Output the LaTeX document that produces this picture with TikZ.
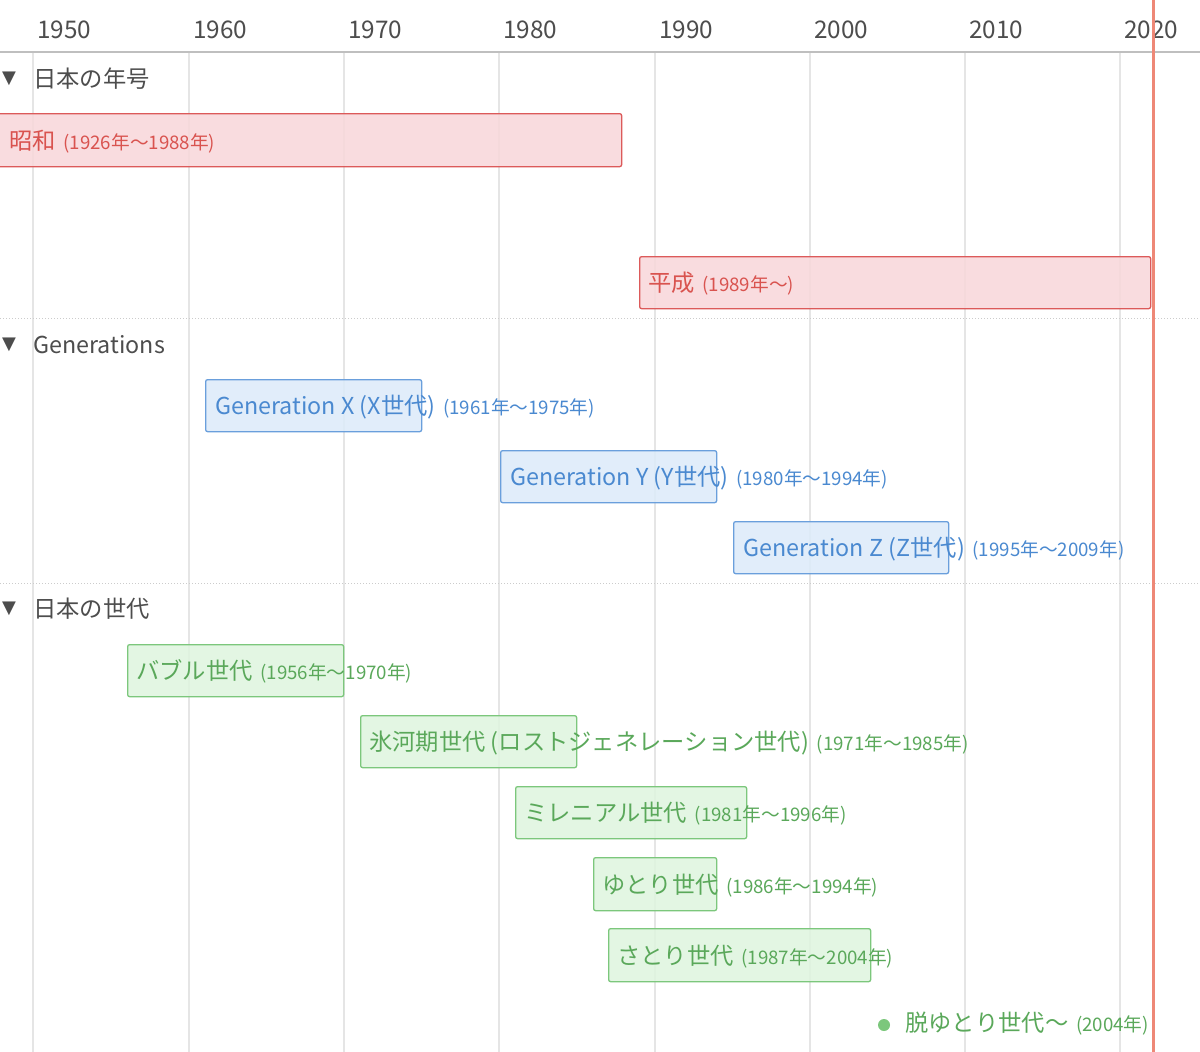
\documentclass[tikz,border=0pt]{standalone}
\usepackage{fontspec}
\setmainfont{Noto Sans CJK JP}
\newfontfamily\dejavu{DejaVu Sans}
\definecolor{gridc}{HTML}{E5E5E5}
\definecolor{axisc}{HTML}{BFBFBF}
\definecolor{sepc}{HTML}{CCCCCC}
\definecolor{labelc}{HTML}{4D4D4D}
\definecolor{nowc}{HTML}{EE8877}
\definecolor{redfill}{HTML}{F8D7DA}
\definecolor{redline}{HTML}{DC5A5A}
\definecolor{redtext}{HTML}{D9534F}
\definecolor{bluefill}{HTML}{DCEBFA}
\definecolor{blueline}{HTML}{6A9FDC}
\definecolor{bluetext}{HTML}{4A89D0}
\definecolor{greenfill}{HTML}{DFF5DF}
\definecolor{greenline}{HTML}{7CC77C}
\definecolor{greentext}{HTML}{5AA85A}
\newcommand{\mainsz}{\fontsize{23.3}{27}\selectfont}
\newcommand{\datesz}{\hspace{2.5pt}\fontsize{18.7}{22}\selectfont}
\begin{document}
\begin{tikzpicture}[x=1pt,y=-1pt,
  gridl/.style={draw=gridc,line width=1.5pt},
  yearlbl/.style={anchor=west,inner sep=0pt,text=labelc,font=\fontsize{24.3}{28}\selectfont},
  grplbl/.style={anchor=west,inner sep=0pt,text=labelc,font=\fontsize{23.3}{27}\selectfont},
  tri/.style={anchor=west,inner sep=0pt,text=labelc,font=\dejavu\fontsize{18}{21}\selectfont},
  itembox/.style={anchor=north west,rounded corners=2pt,line width=1.3pt,inner sep=0pt,fill opacity=0.85},
  redbox/.style={itembox,draw=redline,fill=redfill},
  bluebox/.style={itembox,draw=blueline,fill=bluefill},
  greenbox/.style={itembox,draw=greenline,fill=greenfill},
  itemtxt/.style={anchor=west,inner sep=0pt,font=\mainsz},
  redtxt/.style={itemtxt,text=redtext},
  bluetxt/.style={itemtxt,text=bluetext},
  greentxt/.style={itemtxt,text=greentext},
  sep/.style={draw=sepc,line width=1pt,dotted}
]
\useasboundingbox (0,0) rectangle (1200,1052);
\fill[white] (0,0) rectangle (1200,1052);
% grid and year labels
\foreach \gx/\yr in {33/1950,189/1960,344/1970,499/1980,655/1990,810/2000,965/2010,1120/2020}{
  \coordinate (gt\yr) at (\gx,52);
  \coordinate (gb\yr) at (\gx,1052);
  \draw[gridl] (gt\yr) -- (gb\yr);
  \node[yearlbl] (y\yr) at (\gx+4,30) {\yr};
}
% axis line
\coordinate (axl) at (0,52);
\coordinate (axr) at (1200,52);
\draw[draw=axisc,line width=1.5pt] (axl) -- (axr);
% group separators
\coordinate (s1l) at (0,318); \coordinate (s1r) at (1200,318);
\coordinate (s2l) at (0,583); \coordinate (s2r) at (1200,583);
\draw[sep] (s1l) -- (s1r);
\draw[sep] (s2l) -- (s2r);
% group labels
\node[tri] (t1) at (2,79) {▼};
\node[grplbl] (g1) at (33,79) {日本の年号};
\node[tri] (t2) at (2,345) {▼};
\node[grplbl] (g2) at (33,345) {Generations};
\node[tri] (t3) at (2,609) {▼};
\node[grplbl] (g3) at (33,609) {日本の世代};
% era items
\node[redbox,minimum width=626pt,minimum height=53pt] (showa) at (-5,113) {};
\node[redtxt] (showat) at ([xshift=14pt,yshift=-1pt]showa.west) {昭和 {\datesz(1926年〜1988年)}};
\node[redbox,minimum width=511pt,minimum height=52pt] (heisei) at (639,256) {};
\node[redtxt] (heiseit) at ([xshift=9pt,yshift=-1pt]heisei.west) {平成 {\datesz(1989年〜)}};
% generations
\node[bluebox,minimum width=216pt,minimum height=52pt] (genx) at (205,379) {};
\node[bluetxt] (genxt) at ([xshift=10pt,yshift=-1pt]genx.west) {Generation X (X世代) {\datesz(1961年〜1975年)}};
\node[bluebox,minimum width=216pt,minimum height=52pt] (geny) at (500,450) {};
\node[bluetxt] (genyt) at ([xshift=10pt,yshift=-1pt]geny.west) {Generation Y (Y世代) {\datesz(1980年〜1994年)}};
\node[bluebox,minimum width=215pt,minimum height=52pt] (genz) at (733,521) {};
\node[bluetxt] (genzt) at ([xshift=10pt,yshift=-1pt]genz.west) {Generation Z (Z世代) {\datesz(1995年〜2009年)}};
% japanese generations
\node[greenbox,minimum width=216pt,minimum height=52pt] (bub) at (127,644) {};
\node[greentxt] (bubt) at ([xshift=9pt,yshift=-1pt]bub.west) {バブル世代 {\datesz(1956年〜1970年)}};
\node[greenbox,minimum width=216pt,minimum height=52pt] (hyo) at (360,715) {};
\node[greentxt] (hyot) at ([xshift=9pt,yshift=-1pt]hyo.west) {氷河期世代 (ロストジェネレーション世代) {\datesz(1971年〜1985年)}};
\node[greenbox,minimum width=231pt,minimum height=52pt] (mil) at (515,786) {};
\node[greentxt] (milt) at ([xshift=9pt,yshift=-1pt]mil.west) {ミレニアル世代 {\datesz(1981年〜1996年)}};
\node[greenbox,minimum width=123pt,minimum height=53pt] (yut) at (593,857) {};
\node[greentxt] (yutt) at ([xshift=9pt,yshift=-1pt]yut.west) {ゆとり世代 {\datesz(1986年〜1994年)}};
\node[greenbox,minimum width=262pt,minimum height=53pt] (sat) at (608,928) {};
\node[greentxt] (satt) at ([xshift=9pt,yshift=-1pt]sat.west) {さとり世代 {\datesz(1987年〜2004年)}};
\node[circle,fill=greenline,inner sep=0pt,minimum size=12pt] (dot) at (884,1025) {};
\node[greentxt] (datt) at (905,1024) {脱ゆとり世代〜 {\datesz(2004年)}};
% current time
\coordinate (nowt) at (1153,0);
\coordinate (nowb) at (1153,1052);
\draw[draw=nowc,line width=3pt] (nowt) -- (nowb);
\end{tikzpicture}
\end{document}
